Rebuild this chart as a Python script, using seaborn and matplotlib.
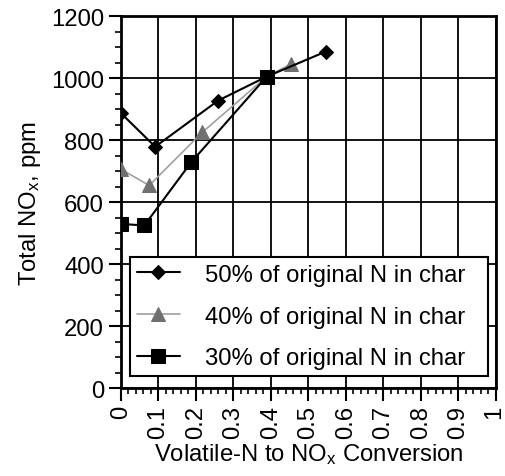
import matplotlib
matplotlib.use("Agg")
import matplotlib.pyplot as plt
import matplotlib.transforms as mtransforms
import seaborn as sns
import pandas as pd
from matplotlib.ticker import MultipleLocator

# Data
x50 = [0.0, 0.092, 0.26, 0.389, 0.547]
y50 = [888, 779, 928, 1005, 1086]
x40 = [0.0, 0.076, 0.218, 0.389, 0.454]
y40 = [707, 654, 826, 1005, 1046]
x30 = [0.0, 0.063, 0.188, 0.389]
y30 = [530, 525, 729, 1005]
labels = ["50% of original N in char", "40% of original N in char", "30% of original N in char"]
xticks = [0, 0.1, 0.2, 0.3, 0.4, 0.5, 0.6, 0.7, 0.8, 0.9, 1]
xticklabels = ["0", "0.1", "0.2", "0.3", "0.4", "0.5", "0.6", "0.7", "0.8", "0.9", "1"]
yticks = [0, 200, 400, 600, 800, 1000, 1200]

sns.set_style("white")
plt.rcParams['font.family'] = ['Liberation Sans', 'DejaVu Sans']
plt.rcParams['mathtext.fontset'] = 'custom'
plt.rcParams['mathtext.rm'] = 'Liberation Sans'
plt.rcParams['mathtext.it'] = 'Liberation Sans'
for k in ['text.color', 'axes.labelcolor', 'xtick.color', 'ytick.color']:
    plt.rcParams[k] = 'black'

fs = 17.2
fig = plt.figure(figsize=(5.05, 4.77), dpi=100)
ax = fig.add_axes([0.239, 0.184, 0.743, 0.780])

df50 = pd.DataFrame({"x": x50, "y": y50})
df40 = pd.DataFrame({"x": x40, "y": y40})
df30 = pd.DataFrame({"x": x30, "y": y30})

sns.lineplot(data=df50, x="x", y="y", ax=ax, color="black", lw=1.5, marker="D",
             markersize=7, markeredgecolor="black", label=labels[0], zorder=5)
sns.lineplot(data=df40, x="x", y="y", ax=ax, color="#a0a0a0", lw=1.2, marker="^",
             markersize=9.5, markerfacecolor="#707070", markeredgecolor="#707070",
             label=labels[1], zorder=4)
sns.lineplot(data=df30, x="x", y="y", ax=ax, color="black", lw=1.5, marker="s",
             markersize=10, markeredgecolor="black", label=labels[2], zorder=6)

ax.set_xlim(0, 1)
ax.set_ylim(0, 1200)
ax.set_xticks(xticks)
ax.set_xticklabels(xticklabels, rotation=90, fontsize=fs)
ax.set_yticks(yticks)
ax.set_yticklabels([str(v) for v in yticks], fontsize=fs)
ax.xaxis.set_minor_locator(MultipleLocator(0.02))
ax.yaxis.set_minor_locator(MultipleLocator(50))
ax.tick_params(axis='both', which='major', direction='out', length=9, width=1.5,
               color='black', labelcolor='black', pad=3, left=True, bottom=True)
ax.tick_params(axis='both', which='minor', direction='out', length=4.5, width=1.2,
               color='black', left=True, bottom=True)

# nudge the last x tick label slightly left so it stays inside the figure
last = ax.get_xticklabels()[-1]
last.set_transform(last.get_transform() + mtransforms.ScaledTranslation(-2 / 100, 0, fig.dpi_scale_trans))

ax.grid(True, which='major', color='black', lw=1.3)
ax.set_axisbelow(True)
for s in ax.spines.values():
    s.set_visible(True)
    s.set_color('black')
    s.set_linewidth(2)

ax.set_xlabel("Volatile-N to NO$_\\mathregular{x}$ Conversion", fontsize=fs, labelpad=2, color='black')
ax.set_ylabel("Total NO$_\\mathregular{x}$, ppm", fontsize=fs, labelpad=6, color='black')

leg = ax.legend(loc='center', bbox_to_anchor=(0.025, 0.0175, 0.954, 0.35),
                mode='expand', fontsize=fs, frameon=True, fancybox=False,
                edgecolor='black', framealpha=1, handlelength=1.8,
                handletextpad=1.05, borderpad=0.28, labelspacing=0.83, borderaxespad=0)
leg.get_frame().set_linewidth(1.5)
leg.set_zorder(10)
for t in leg.get_texts():
    t.set_color('black')

fig.savefig("out.png", dpi=100)
